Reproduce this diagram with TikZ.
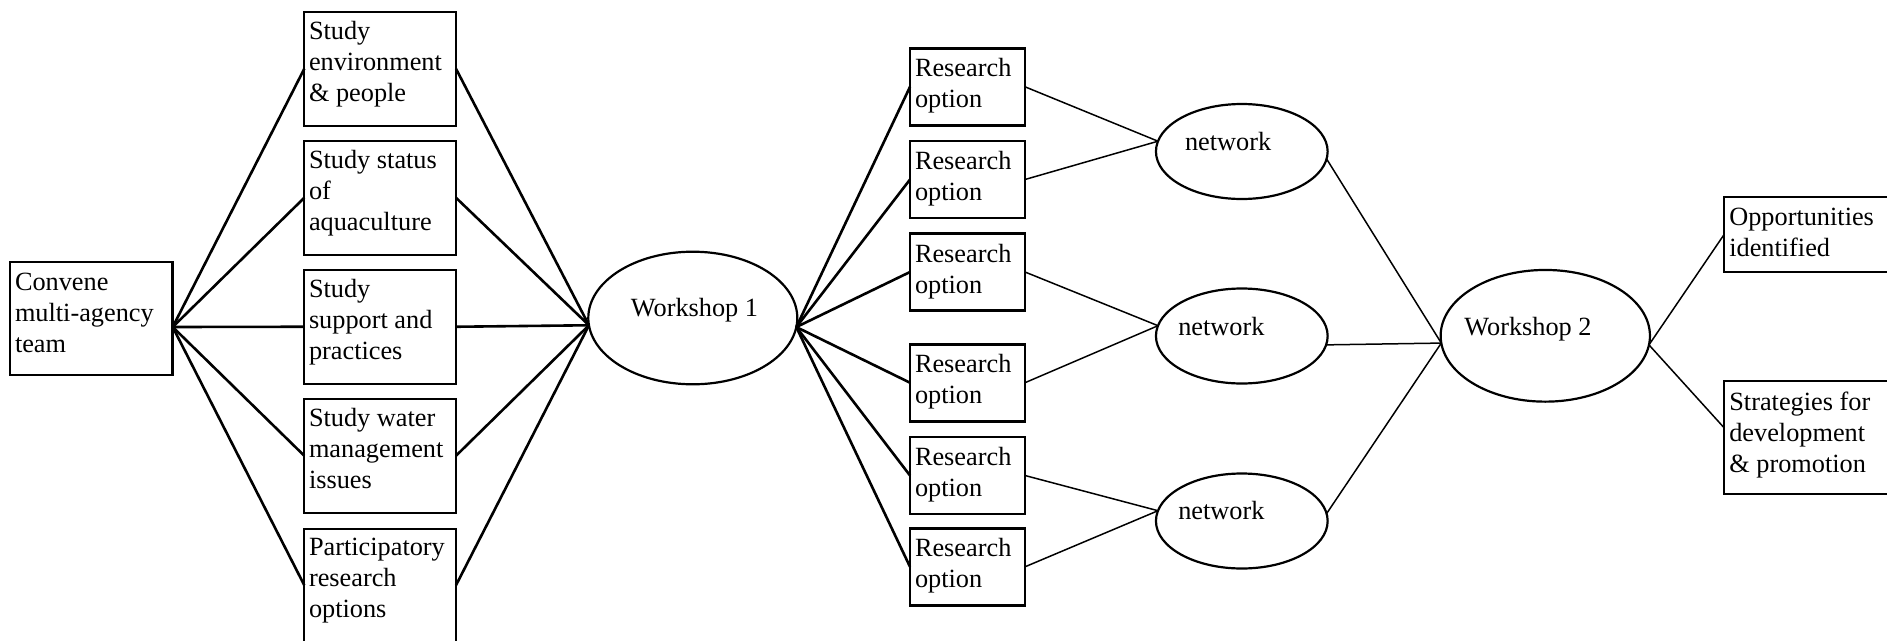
\documentclass[tikz,border=0pt]{standalone}
\usepackage{fontspec}
\setmainfont{Liberation Serif}
\usetikzlibrary{shapes.geometric}

\begin{document}
\begin{tikzpicture}[x=1pt,y=-1pt,
  boxbase/.style={draw, rectangle, inner sep=0pt, outer sep=0pt, anchor=north west},
  heavybox/.style={boxbase, line width=2.8pt},
  lightbox/.style={boxbase, line width=2pt},
  oval/.style={draw, ellipse, inner sep=0pt, outer sep=0pt, line width=2.2pt},
  txt/.style={anchor=base west, inner sep=0pt, outer sep=0pt, align=left,
              font=\fontsize{26.3}{31}\selectfont},
  heavyline/.style={line width=2.6pt},
  lightline/.style={line width=1.5pt}
]
\useasboundingbox (0,0) rectangle (1887,640);
\clip (0,0) rectangle (1887,640);

% starting point (text anchored on the baseline of its last line)
\node[heavybox, minimum width=162.7pt, minimum height=113pt] (conv) at (10,262) {};
\node[txt] (tconv) at (15,352) {Convene\\multi-agency\\team};

% studies
\foreach \i/\t in {1/12, 2/141, 3/270, 4/399, 5/528.5}
  \node[lightbox, minimum width=151.7pt, minimum height=113.5pt] (s\i) at (304.3,\t) {};
\node[txt] (ts1) at (309,101.5) {Study\\environment\\\& people};
\node[txt] (ts2) at (309,230.5) {Study status\\of\\aquaculture};
\node[txt] (ts3) at (309,359.5) {Study\\support and\\practices};
\node[txt] (ts4) at (309,488.5) {Study water\\management\\issues};
\node[txt] (ts5) at (309,617.5) {Participatory\\research\\options};

% first workshop
\node[oval, minimum width=209pt, minimum height=132.6pt] (w1) at (692.8,318) {};
\node[txt, anchor=base] (tw1) at (694.5,316.7) {Workshop 1};

% research options
\foreach \i/\t in {1/48.3, 2/141, 3/233.5, 4/344.2, 5/437, 6/528.3} {
  \node[heavybox, minimum width=115pt, minimum height=77pt] (r\i) at (910,\t) {};
  \node[txt] (tr\i) at (915,\t+59.5) {Research\\option};
}

% networks
\foreach \i/\c/\tx/\b in {1/151.5/1185/150, 2/336/1178.3/335, 3/521/1178.3/519} {
  \node[oval, minimum width=171.7pt, minimum height=95pt] (n\i) at (1241.8,\c) {};
  \node[txt] (tn\i) at (\tx,\b) {network};
}

% second workshop
\node[oval, minimum width=209.3pt, minimum height=131.7pt] (w2) at (1545.3,335.8) {};
\node[txt, anchor=base] (tw2) at (1528,335) {Workshop 2};

% outcomes
\node[lightbox, minimum width=200pt, minimum height=75pt] (opp) at (1724.3,196.7) {};
\node[txt] (topp) at (1729.3,256) {Opportunities\\identified};
\node[lightbox, minimum width=200pt, minimum height=113pt] (str) at (1724.3,381) {};
\node[txt] (tstr) at (1729.3,472) {Strategies for\\development\\\& promotion};

% connectors
\coordinate (convout) at ([yshift=-8.5pt]conv.east);
\foreach \i in {1,...,5} {
  \draw[heavyline] (convout) -- (s\i.west);
  \draw[heavyline] (s\i.east) -- (w1.184.4);
}
\foreach \i in {1,...,6}
  \draw[heavyline] (w1.355.1) -- (r\i.west);
\draw[lightline] (r1.east) -- (n1.173.7);
\draw[lightline] (r2.east) -- (n1.173.7);
\draw[lightline] (r3.east) -- (n2.173.7);
\draw[lightline] (r4.east) -- (n2.173.7);
\draw[lightline] (r5.east) -- (n3.173.7);
\draw[lightline] (r6.east) -- (n3.173.7);
\draw[lightline] (n1.355.4) -- (w2.184.6);
\draw[lightline] (n2.354.6) -- (w2.184.6);
\draw[lightline] (n3.5.4) -- (w2.184.6);
\draw[lightline] (w2.355.4) -- (opp.west);
\draw[lightline] (w2.355.4) -- ([yshift=9.5pt]str.west);
\end{tikzpicture}
\end{document}
